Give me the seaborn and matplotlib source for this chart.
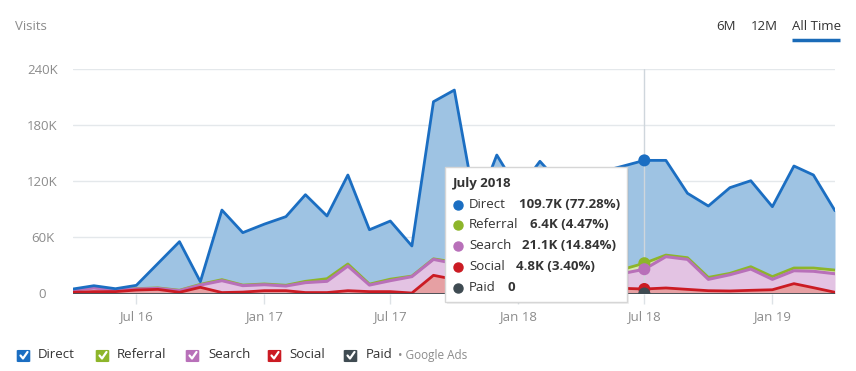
import numpy as np
import pandas as pd
import matplotlib
matplotlib.use("Agg")
import matplotlib.pyplot as plt
import seaborn as sns
from matplotlib.patches import FancyBboxPatch
from matplotlib.lines import Line2D

# ---------------- data (thousands of visits) ----------------
months = pd.date_range("2016-04-01", "2019-04-01", freq="MS")
direct = [0.8, 2.0, 1.1, 3.5, 26.0, 51.8, 2.8, 74.2, 55.9, 63.8, 73.2, 92.4, 66.9,
          94.9, 58.0, 62.0, 32.1, 167.6, 183.5, 62.0, 120.7, 86.0, 115.0, 93.0, 101.0,
          105.0, 110.0, 109.7, 101.0, 68.7, 76.1, 91.4, 91.7, 74.6, 108.8, 99.2, 63.3]
referral = [0.3, 0.4, 0.3, 0.4, 0.5, 0.5, 0.8, 1.1, 0.6, 0.8, 0.8, 1.4, 2.8,
            2.2, 1.0, 1.6, 0.6, 0.6, 1.5, 2.0, 2.0, 2.0, 3.0, 3.0, 3.0,
            4.0, 4.5, 6.4, 1.7, 1.8, 2.1, 1.5, 2.5, 2.9, 2.9, 3.5, 3.9]
search = [2.4, 3.9, 1.7, 1.1, 1.1, 1.7, 2.4, 12.7, 6.9, 6.4, 5.0, 10.6, 12.0,
          26.3, 7.0, 11.7, 17.5, 17.0, 17.0, 17.0, 18.0, 16.0, 17.0, 16.0, 15.5,
          15.5, 16.0, 21.1, 33.4, 32.0, 12.1, 17.3, 22.7, 11.1, 13.8, 17.5, 19.8]
social = [1.3, 2.0, 2.0, 3.7, 4.4, 1.3, 6.6, 1.0, 1.5, 3.0, 3.0, 1.0, 1.0,
          3.0, 2.0, 2.0, 0.5, 19.4, 15.0, 9.0, 7.0, 6.0, 6.0, 6.0, 5.5,
          5.5, 5.5, 4.8, 5.9, 4.4, 3.0, 2.7, 3.4, 4.0, 10.5, 6.2, 1.3]
paid = [0.0] * 37

series_names = ["Direct", "Referral", "Search", "Social", "Paid"]
y_ticks = [0, 60, 120, 180, 240]
y_tick_labels = ["0", "60K", "120K", "180K", "240K"]
x_tick_dates = ["2016-07-01", "2017-01-01", "2017-07-01", "2018-01-01", "2018-07-01", "2019-01-01"]
x_tick_labels = ["Jul 16", "Jan 17", "Jul 17", "Jan 18", "Jul 18", "Jan 19"]
hover_month = "2018-07-01"
tooltip_title = "July 2018"
tooltip_values = ["109.7K (77.28%)", "6.4K (4.47%)", "21.1K (14.84%)", "4.8K (3.40%)", "0"]

# ---------------- styles ----------------
line_col = {"Direct": "#1b6ec2", "Referral": "#8db52a", "Search": "#b870b9",
            "Social": "#cb1b23", "Paid": "#3f4b52"}
fill_col = {"Direct": "#9ec3e3", "Referral": "#d9e8b4", "Search": "#e3c3e3",
            "Social": "#e6a0a3"}
box_col = {"Direct": "#1b6ec2", "Referral": "#8db52a", "Search": "#b870b9",
           "Social": "#cb1b23", "Paid": "#3f4b52"}

sns.set_theme(style="white")
plt.rcParams["font.family"] = ["Open Sans", "DejaVu Sans"]

W, H = 856, 371
def fx(x): return x / W
def fy(y): return 1 - y / H

df = pd.DataFrame({"month": months, "Direct": direct, "Referral": referral,
                   "Search": search, "Social": social, "Paid": paid})
df["c_paid"] = df["Paid"]
df["c_social"] = df["c_paid"] + df["Social"]
df["c_search"] = df["c_social"] + df["Search"]
df["c_referral"] = df["c_search"] + df["Referral"]
df["c_direct"] = df["c_referral"] + df["Direct"]

fig = plt.figure(figsize=(W / 100, H / 100), dpi=100)
ax = fig.add_axes([fx(73), fy(293.5), (835 - 73) / W, 225 / H])

# fills
ax.fill_between(df["month"], df["c_referral"], df["c_direct"], color=fill_col["Direct"], lw=0, zorder=1)
ax.fill_between(df["month"], df["c_search"], df["c_referral"], color=fill_col["Referral"], lw=0, zorder=1)
ax.fill_between(df["month"], df["c_social"], df["c_search"], color=fill_col["Search"], lw=0, zorder=1)
ax.fill_between(df["month"], df["c_paid"], df["c_social"], color=fill_col["Social"], lw=0, zorder=1)

# hover crosshair
ax.axvline(pd.Timestamp(hover_month), color="#cfd6dc", lw=1, zorder=2)

# lines
for col, name, lw in [("c_referral", "Referral", 2.0), ("c_search", "Search", 2.2),
                      ("c_social", "Social", 2.0), ("c_paid", "Paid", 2.0),
                      ("c_direct", "Direct", 2.0)]:
    sns.lineplot(data=df, x="month", y=col, color=line_col[name], lw=lw, ax=ax,
                 zorder=3, solid_joinstyle="round")

# hover dots
hv = df[df["month"] == pd.Timestamp(hover_month)]
for col, name in [("c_direct", "Direct"), ("c_referral", "Referral"), ("c_search", "Search"),
                  ("c_social", "Social"), ("c_paid", "Paid")]:
    sns.scatterplot(x=hv["month"], y=hv[col], color=line_col[name], s=75, edgecolor="none",
                    ax=ax, zorder=4)

ax.set_xlim(months[0], months[-1])
ax.set_ylim(0, 240)
ax.set_xlabel("")
ax.set_ylabel("")
ax.set_yticks(y_ticks)
ax.set_yticklabels(y_tick_labels)
ax.set_xticks([pd.Timestamp(d) for d in x_tick_dates])
ax.set_xticklabels(x_tick_labels)
ax.yaxis.grid(True, color="#e4e8eb", lw=1)
ax.xaxis.grid(False)
ax.set_axisbelow(True)
for s in ax.spines.values():
    s.set_visible(False)
ax.tick_params(axis="y", length=0, pad=22, labelsize=9.5, labelcolor="#8c8c8c")
ax.tick_params(axis="x", length=7, width=1, color="#dde2e6", pad=5, labelsize=9.5,
               labelcolor="#8c8c8c", bottom=True)
for t in ax.get_yticklabels():
    t.set_horizontalalignment("center")

# ---------------- header ----------------
fig.text(fx(15), fy(27), "Visits", fontsize=9.5, color="#8c8c8c", va="center", ha="left")
fig.text(fx(716), fy(27), "6M", fontsize=9.5, color="#333333", va="center", ha="left")
fig.text(fx(751), fy(27), "12M", fontsize=9.5, color="#333333", va="center", ha="left")
fig.text(fx(792), fy(27), "All Time", fontsize=9.5, color="#333333", va="center", ha="left")
fig.add_artist(Line2D([fx(792), fx(840)], [fy(40), fy(40)], color="#1a6bb8", lw=2.5,
                      solid_capstyle="butt"))

# ---------------- legend (checkboxes) ----------------
legend_pos = [(17, 38), (96, 117), (186, 208), (268, 289), (344, 366)]
for name, (bx, tx) in zip(series_names, legend_pos):
    fig.add_artist(FancyBboxPatch((fx(bx + 1), fy(361.5)), 11 / W, 11 / H,
                                  boxstyle="round,pad=0.0015,rounding_size=0.002",
                                  transform=fig.transFigure, fc=box_col[name], ec="none"))
    fig.add_artist(Line2D([fx(bx + 3.5), fx(bx + 6), fx(bx + 10.5)],
                          [fy(355.5), fy(358.5), fy(352)], color="white", lw=1.6,
                          solid_capstyle="round", solid_joinstyle="round"))
    fig.text(fx(tx), fy(355), name, fontsize=9.5, color="#333333", va="center", ha="left")
fig.text(fx(398), fy(355), "\u2022 Google Ads", fontsize=8.5, color="#8c8c8c", va="center", ha="left")

# ---------------- tooltip ----------------
fig.add_artist(FancyBboxPatch((fx(447), fy(304)), (627 - 445) / W, (302 - 167) / H,
                              boxstyle="square,pad=0", transform=fig.transFigure,
                              fc="#000000", ec="none", alpha=0.06, zorder=5))
fig.add_artist(FancyBboxPatch((fx(445), fy(302)), (627 - 445) / W, (302 - 167) / H,
                              boxstyle="square,pad=0", transform=fig.transFigure,
                              fc="white", ec="#d6d6d6", lw=1, zorder=6))
fig.text(fx(453), fy(184), tooltip_title, fontsize=9.5, fontweight="bold", color="#333333",
         va="center", ha="left", zorder=7)
row_y = [204.5, 225, 245.5, 266.5, 287.5]
val_x = [519, 530.5, 522, 516.5, 507.5]
for name, ry, vx, val in zip(series_names, row_y, val_x, tooltip_values):
    fig.add_artist(Line2D([fx(458.5)], [fy(ry)], marker="o", markersize=6.5,
                          color=line_col[name], ls="none", zorder=7))
    fig.text(fx(469), fy(ry), name, fontsize=9.5, color="#333333", va="center", ha="left", zorder=7)
    fig.text(fx(vx), fy(ry), val, fontsize=9.5, fontweight="bold", color="#333333",
             va="center", ha="left", zorder=7)

fig.savefig("out.png", dpi=100)
